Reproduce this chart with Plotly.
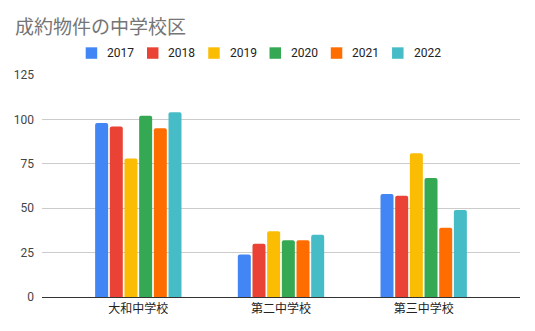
import plotly.graph_objects as go

categories = ["大和中学校", "第二中学校", "第三中学校"]
years = ["2017", "2018", "2019", "2020", "2021", "2022"]
v2017 = [98, 24, 58]
v2018 = [96, 30, 57]
v2019 = [78, 37, 81]
v2020 = [102, 32, 67]
v2021 = [95, 32, 39]
v2022 = [104, 35, 49]
series = [v2017, v2018, v2019, v2020, v2021, v2022]
colors = ["#4285F4", "#EA4335", "#FBBC04", "#34A853", "#FF6D01", "#46BDC6"]
yticks = [0, 25, 50, 75, 100, 125]

W, H = 535, 331
ML, MR, MT, MB = 42, 15, 75, 33.5
PW, PH = W - ML - MR, H - MT - MB

def px_x(px):
    return (px - ML) / PW

def px_y(py):
    return (H - MB - py) / PH

font_family = "Roboto, 'Noto Sans CJK JP', sans-serif"

fig = go.Figure()
for name, vals, col in zip(years, series, colors):
    fig.add_trace(go.Bar(name=name, x=categories, y=vals, marker_color=col,
                         marker_line_width=0, showlegend=False))

# custom legend (square swatch + label), matching the reference spacing
leg_x0, leg_pitch, leg_cy, sw = 85.7, 61.27, 53, 11.5
shapes, annotations = [], []
for i, (name, col) in enumerate(zip(years, colors)):
    x0 = leg_x0 + i * leg_pitch
    shapes.append(dict(type="rect", xref="paper", yref="paper",
                       x0=px_x(x0), x1=px_x(x0 + sw),
                       y0=px_y(leg_cy + sw / 2), y1=px_y(leg_cy - sw / 2),
                       fillcolor=col, line=dict(width=0)))
    annotations.append(dict(text=name, xref="paper", yref="paper",
                            x=px_x(x0 + 19.5), y=px_y(leg_cy), xanchor="left",
                            yanchor="middle", showarrow=False,
                            font=dict(size=12, color="#222222")))

fig.update_layout(
    width=W, height=H,
    margin=dict(l=ML, r=MR, t=MT, b=MB),
    paper_bgcolor="white", plot_bgcolor="white",
    font=dict(family=font_family, size=12, color="#222222"),
    barmode="group", bargap=0.383, bargroupgap=0.114,
    barcornerradius=2,
    title=dict(text="成約物件の中学校区", x=15/W, xanchor="left",
               y=1-27/H, yanchor="middle", xref="container", yref="container",
               font=dict(family="'Noto Sans CJK JP', sans-serif", size=19, color="#757575")),
    showlegend=False,
    shapes=shapes,
    annotations=annotations,
)
fig.update_xaxes(type="category", categoryarray=categories, range=[-0.675, 2.675], showgrid=False,
                 showline=True, linecolor="#333333", linewidth=1.3,
                 ticks="", tickfont=dict(family="'Noto Sans CJK JP', sans-serif", size=12, color="#222222"),
                 fixedrange=True)
fig.update_yaxes(range=[0, 125], tickvals=yticks, showgrid=True, gridcolor="#cccccc",
                 gridwidth=1, zeroline=False, showline=False, ticks="",
                 tickfont=dict(size=12, color="#444444"), ticklabelstandoff=7,
                 fixedrange=True)

fig.write_html("out.html")
